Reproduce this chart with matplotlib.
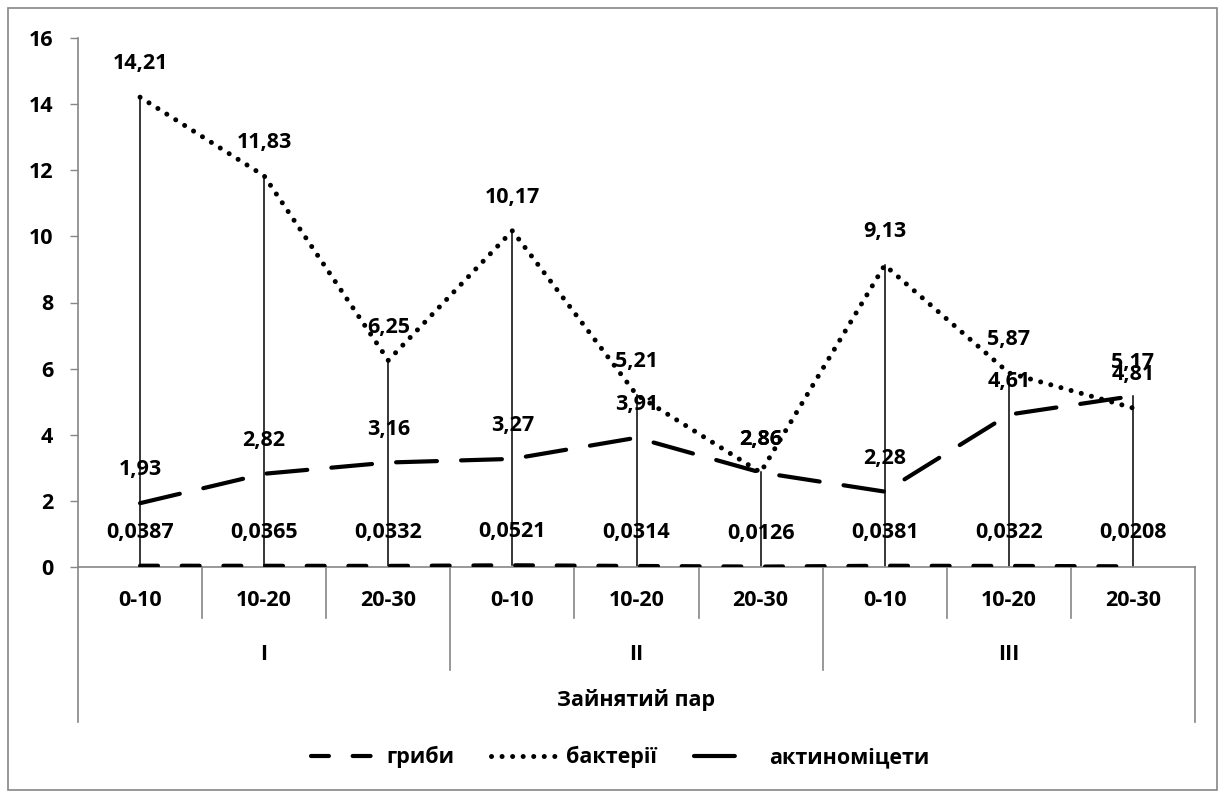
import matplotlib
matplotlib.use('Agg')
import matplotlib.pyplot as plt
from matplotlib.patches import Rectangle

plt.rcParams['font.family'] = ['Open Sans', 'DejaVu Sans']
plt.rcParams['font.weight'] = 'bold'

# дані
depths = ['0-10', '10-20', '20-30', '0-10', '10-20', '20-30', '0-10', '10-20', '20-30']
groups = ['I', 'II', 'III']
axis_title = 'Зайнятий пар'
hryby = [0.0387, 0.0365, 0.0332, 0.0521, 0.0314, 0.0126, 0.0381, 0.0322, 0.0208]
bakterii = [14.21, 11.83, 6.25, 10.17, 5.21, 2.86, 9.13, 5.87, 4.81]
aktyno = [1.93, 2.82, 3.16, 3.27, 3.91, 2.86, 2.28, 4.61, 5.17]
names = ['гриби', 'бактерії', 'актиноміцети']

W, H = 1225, 796
fig = plt.figure(figsize=(W / 100, H / 100), dpi=100)
x0, x1, y0, y1 = 78, 1195, 567, 38
ax = fig.add_axes([x0 / W, (H - y0) / H, (x1 - x0) / W, (y0 - y1) / H])

grey = '#868686'
fs = 15.5
x = list(range(len(depths)))

# high-low лінії
for i in x:
    vals = [hryby[i], bakterii[i], aktyno[i]]
    ax.plot([i, i], [min(vals), max(vals)], color='black', lw=1.1, zorder=2)

l1, = ax.plot(x, hryby, color='black', lw=3, dashes=(4.3, 5.7),
              dash_capstyle='round', zorder=3)
l2, = ax.plot(x, bakterii, color='black', lw=3.6, dashes=(0.01, 2.1),
              dash_capstyle='round', zorder=3)
l3, = ax.plot(x, aktyno, color='black', lw=3, dashes=(9.8, 5.8),
              dash_capstyle='round', zorder=3)

def fmt(v):
    return str(v).replace('.', ',')

for series in (hryby, bakterii, aktyno):
    for i, v in enumerate(series):
        ax.annotate(fmt(v), (i, v), xytext=(0, 24), textcoords='offset points',
                    ha='center', va='center', fontsize=fs, fontweight='bold', zorder=4)

ax.set_xlim(-0.5, len(depths) - 0.5)
ax.set_ylim(0, 16)
ax.set_yticks(range(0, 17, 2))
ax.set_xticks([])
ax.tick_params(axis='y', length=6, width=1, color=grey, pad=12, labelsize=fs)
for lab in ax.get_yticklabels():
    lab.set_fontweight('bold')
for s in ('top', 'right', 'left'):
    ax.spines[s].set_visible(False)
ax.spines['bottom'].set_color(grey)
ax.spines['bottom'].set_linewidth(1.2)

# багаторівнева вісь категорій
tr = ax.get_xaxis_transform()
h = y0 - y1
lv1 = -(618 - y0) / h
lv2 = -(670 - y0) / h
lv3 = -(722 - y0) / h
for k in range(len(depths) + 1):
    xb = k - 0.5
    if k in (0, len(depths)):
        yb = lv3
    elif k % 3 == 0:
        yb = lv2
    else:
        yb = lv1
    ax.plot([xb, xb], [0, yb], color=grey, lw=1.2, transform=tr, clip_on=False)
ax.plot([-0.5, -0.5], [0, 1], color=grey, lw=1.2, transform=tr, clip_on=False)

for i, d in enumerate(depths):
    ax.text(i, -(601 - y0) / h, d, transform=tr, ha='center', va='center',
            fontsize=fs, fontweight='bold')
for g, name in enumerate(groups):
    ax.text(3 * g + 1, -(655 - y0) / h, name, transform=tr, ha='center', va='center',
            fontsize=fs, fontweight='bold')
ax.text((len(depths) - 1) / 2, -(700 - y0) / h, axis_title, transform=tr,
        ha='center', va='center', fontsize=fs, fontweight='bold')

fig.legend([l1, l2, l3], names, loc='center', bbox_to_anchor=(620 / W, (H - 757) / H),
           ncol=3, frameon=False, handlelength=3.0, handletextpad=0.5,
           columnspacing=1.7, prop={'weight': 'bold', 'size': fs})

fig.patches.append(Rectangle((8 / W, 6 / H), 1209 / W, 782 / H, transform=fig.transFigure,
                             fill=False, edgecolor=grey, lw=1.2))

fig.savefig('out.png', dpi=100)
